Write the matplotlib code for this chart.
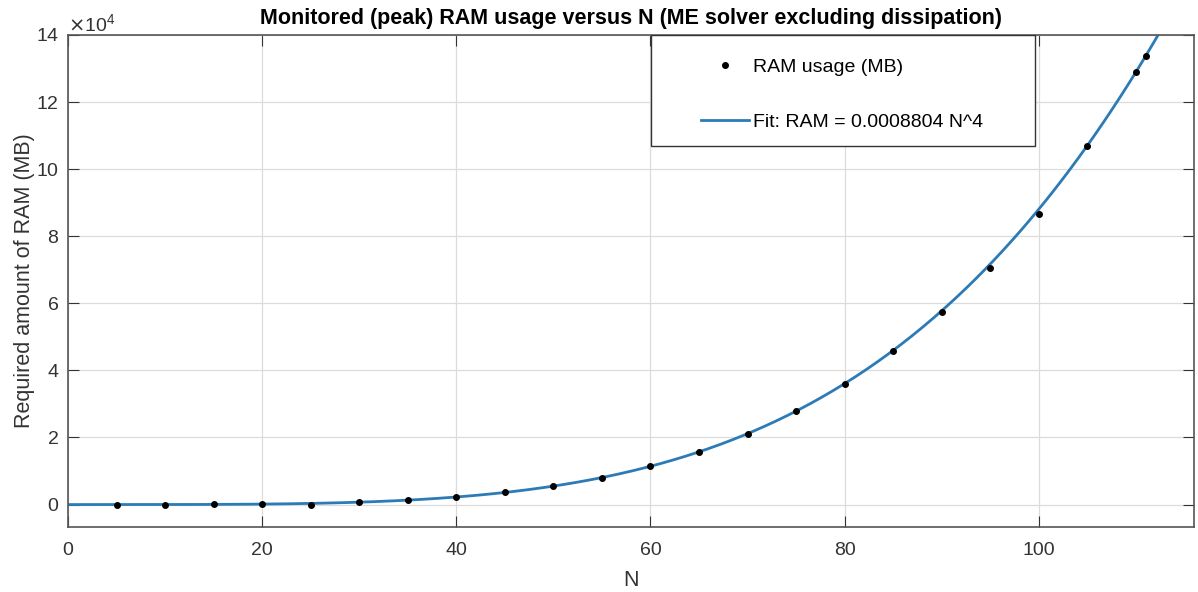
import matplotlib
matplotlib.use("Agg")
import matplotlib.pyplot as plt
import matplotlib.ticker as mticker
from matplotlib.patches import Rectangle
import numpy as np

plt.rcParams['font.family'] = ['Liberation Sans', 'DejaVu Sans']

# measured peak RAM (MB) per N
n_vals = [5, 10, 15, 20, 25, 30, 35, 40, 45, 50, 55, 60, 65, 70, 75,
          80, 85, 90, 95, 100, 105, 110, 111]
ram_vals = [1, 9, 45, 141, 0, 713, 1320, 2250, 3600, 5500, 8050, 11400,
            15700, 21100, 27800, 35800, 45800, 57500, 70400, 86600,
            106900, 128900, 133700]
fit_coef = 0.0008804

grijs = '#333333'

fig = plt.figure(figsize=(11.98, 5.92), dpi=100)
ax = fig.add_axes([0.0568, 0.1103, 0.9399, 0.8306])

nn = np.linspace(0, 116, 400)
lijn, = ax.plot(nn, fit_coef * nn**4, color='#2c7bb6', lw=2,
                label='Fit: RAM = 0.0008804 N^4', zorder=2)
punten, = ax.plot(n_vals, ram_vals, 'k.', ms=8, label='RAM usage (MB)', zorder=3)

ax.set_xlim(0, 116)
ax.set_ylim(-6600, 140000)
ax.set_xticks([0, 20, 40, 60, 80, 100])
ax.set_yticks(np.arange(0, 140001, 20000))

fmt = mticker.ScalarFormatter(useMathText=True)
fmt.set_powerlimits((4, 4))
ax.yaxis.set_major_formatter(fmt)
ax.yaxis.get_offset_text().set_fontsize(14)
ax.yaxis.get_offset_text().set_color(grijs)

ax.grid(True, color='#dcdcdc', lw=0.9)
ax.set_axisbelow(True)
ax.tick_params(direction='in', top=True, right=True, length=8,
               labelsize=14, colors=grijs)
ax.tick_params(axis='x', pad=11)
ax.tick_params(axis='y', pad=6.5)
for s in ax.spines.values():
    s.set_color('#555555')
    s.set_linewidth(1.2)

ax.set_title('Monitored (peak) RAM usage versus N (ME solver excluding dissipation)',
             fontsize=15.5, fontweight='bold', pad=8)
ax.set_xlabel('N', fontsize=15.5, color=grijs, labelpad=8)
ax.set_ylabel('Required amount of RAM (MB)', fontsize=15.5, color=grijs, labelpad=0.5)

# legenda: kader apart tekenen (MATLAB-stijl ruime marge)
ax.add_patch(Rectangle((0.5174, 0.7734), 0.3410, 0.2266, transform=ax.transAxes,
                       facecolor='white', edgecolor='#333333', lw=1.0, zorder=4))
leg = ax.legend(handles=[punten, lijn], loc='upper left',
                bbox_to_anchor=(0.5620, 0.952), fontsize=14, frameon=False,
                borderpad=0, labelspacing=1.9, handlelength=2.5,
                handletextpad=0.2, borderaxespad=0)
leg.set_zorder(5)

fig.savefig('out.png', dpi=100)
